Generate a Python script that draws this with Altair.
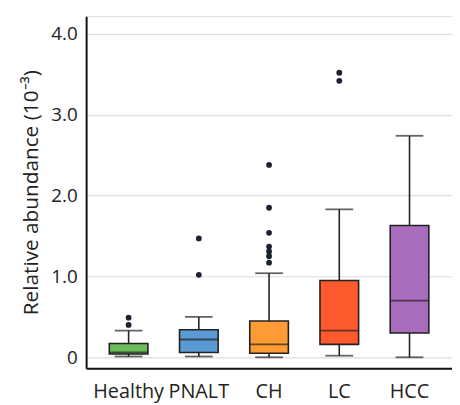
import altair as alt
import pandas as pd

groups = ["Healthy", "PNALT", "CH", "LC", "HCC"]
whisker_low = [0.01, 0.01, 0.0, 0.02, 0.0]
q1 = [0.04, 0.06, 0.05, 0.16, 0.30]
median = [0.06, 0.22, 0.16, 0.33, 0.70]
q3 = [0.17, 0.34, 0.45, 0.95, 1.63]
whisker_high = [0.33, 0.50, 1.04, 1.83, 2.74]
colors = ["#6dbd5a", "#5b9bd5", "#ff9b35", "#ff5a2e", "#a96bbb"]

outlier_groups = ["Healthy", "Healthy", "PNALT", "PNALT",
                  "CH", "CH", "CH", "CH", "CH", "CH", "CH", "LC", "LC"]
outlier_values = [0.40, 0.49, 1.02, 1.47,
                  1.17, 1.25, 1.31, 1.37, 1.54, 1.85, 2.38, 3.42, 3.52]

stats = pd.DataFrame({
    "group": groups, "lo": whisker_low, "q1": q1, "med": median,
    "q3": q3, "hi": whisker_high,
})
outs = pd.DataFrame({"group": outlier_groups, "value": outlier_values})

xscale = alt.Scale(domain=groups, paddingInner=0.45, paddingOuter=0.33)
yscale = alt.Scale(domain=[-0.135, 4.22], nice=False, zero=False)
cscale = alt.Scale(domain=groups, range=colors)

x_enc = alt.X("group:N", scale=xscale, sort=groups, title=None,
              axis=alt.Axis(labelAngle=0, ticks=False, domainColor="#111",
                            domainWidth=2, labelFontSize=20, labelColor="#222",
                            labelPadding=14, labelFont="Open Sans"))

base = alt.Chart(stats)

whisker = base.mark_rule(color="#222", strokeWidth=1.6).encode(
    x=x_enc,
    y=alt.Y("lo:Q", scale=yscale,
            title="Relative abundance  (10⁻³)",
            axis=alt.Axis(values=[0, 1, 2, 3, 4], ticks=False, grid=True,
                          gridColor="#dcdcdc", gridWidth=1.2,
                          domainColor="#111", domainWidth=2,
                          labelExpr="datum.value == 0 ? '0' : format(datum.value, '.1f')",
                          labelFontSize=19, labelColor="#222", labelPadding=9,
                          labelFont="Open Sans",
                          titleFont="Open Sans", titleFontSize=21,
                          titleFontWeight="normal", titleColor="#222",
                          titlePadding=9)),
    y2="hi:Q",
)

caps_lo = base.mark_tick(color="#222", size=28, thickness=1.8, orient="horizontal").encode(
    x=x_enc, y=alt.Y("lo:Q", scale=yscale))
caps_hi = base.mark_tick(color="#222", size=28, thickness=1.8, orient="horizontal").encode(
    x=x_enc, y=alt.Y("hi:Q", scale=yscale))

box = base.mark_bar(stroke="#222", strokeWidth=1.6).encode(
    x=x_enc,
    y=alt.Y("q1:Q", scale=yscale),
    y2="q3:Q",
    color=alt.Color("group:N", scale=cscale, legend=None),
)

med_tick = base.mark_tick(color="#222", size=39, thickness=1.8, orient="horizontal").encode(
    x=x_enc, y=alt.Y("med:Q", scale=yscale))

points = alt.Chart(outs).mark_circle(color="#1c2130", opacity=1, size=34).encode(
    x=x_enc, y=alt.Y("value:Q", scale=yscale))

chart = alt.layer(whisker, caps_lo, caps_hi, box, med_tick, points).properties(
    width=370, height=356,
    autosize=alt.AutoSizeParams(type="none"),
    padding={"left": 79, "top": 6, "right": 0, "bottom": 40},
).configure_view(stroke=None).configure(background="white")

chart.save("out.html", embed_options={"renderer": "svg", "actions": False})
